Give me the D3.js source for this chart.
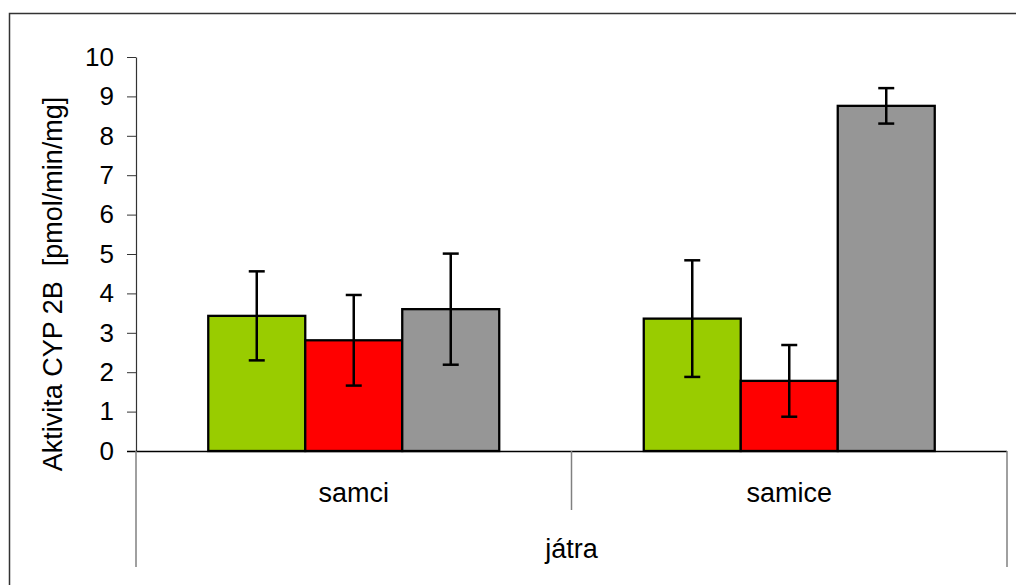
<!DOCTYPE html>
<html lang="cs">
<head>
<meta charset="UTF-8">
<title>Aktivita CYP 2B</title>
<script src="https://cdn.jsdelivr.net/npm/d3@7"></script>
<style>
    body { margin: 0; background: #fff; }
    svg text { font-family: "Liberation Sans", Arial, sans-serif; fill: #000; }
</style>
</head>
<body>
<div id="chart"></div>
<script>
    var categories = ["samci", "samice"];
    var groupLabel = "játra";
    var series = ["s1", "s2", "s3"];
    var colors = ["#99cc00", "#ff0000", "#969696"];
    // hodnoty po sériích, pořadí jako categories
    var values = [
        [3.43, 3.36],
        [2.81, 1.78],
        [3.60, 8.76]
    ];
    var errors = [
        [1.13, 1.48],
        [1.15, 0.91],
        [1.41, 0.45]
    ];
    var yTicks = [0, 1, 2, 3, 4, 5, 6, 7, 8, 9, 10];

    var width = 1016, height = 585;
    var plotLeft = 136, plotRight = 1007, plotTop = 57, plotBottom = 451;

    var svg = d3.select("#chart").append("svg")
        .attr("width", width)
        .attr("height", height);

    // rámeček grafu
    svg.append("rect")
        .attr("x", 9.5).attr("y", 13.5)
        .attr("width", 1030).attr("height", 600)
        .attr("fill", "none")
        .attr("stroke", "#333")
        .attr("stroke-width", 1.5);

    var y = d3.scaleLinear().domain([0, 10]).range([plotBottom, plotTop]);
    var x0 = d3.scaleBand().domain(categories).range([plotLeft, plotRight]);
    var x1 = d3.scaleBand().domain(series).range([0, x0.bandwidth()]).paddingOuter(0.745);

    var data = [];
    series.forEach(function (s, i) {
        categories.forEach(function (c, j) {
            data.push({ s: s, c: c, v: values[i][j], e: errors[i][j], color: colors[i] });
        });
    });

    // sloupce
    svg.selectAll("rect.bar")
        .data(data)
        .enter().append("rect")
        .attr("class", "bar")
        .attr("x", function (d) { return x0(d.c) + x1(d.s); })
        .attr("y", function (d) { return y(d.v); })
        .attr("width", x1.bandwidth())
        .attr("height", function (d) { return y(0) - y(d.v); })
        .attr("fill", function (d) { return d.color; })
        .attr("stroke", "#000")
        .attr("stroke-width", 2.3);

    // chybové úsečky
    var eb = svg.selectAll("g.err")
        .data(data)
        .enter().append("g")
        .attr("class", "err")
        .attr("transform", function (d) {
            return "translate(" + (x0(d.c) + x1(d.s) + x1.bandwidth() / 2) + ",0)";
        })
        .attr("stroke", "#000")
        .attr("stroke-width", 2.5);
    eb.append("line")
        .attr("y1", function (d) { return y(d.v + d.e); })
        .attr("y2", function (d) { return y(d.v - d.e); });
    eb.append("line")
        .attr("x1", -8).attr("x2", 8)
        .attr("y1", function (d) { return y(d.v + d.e); })
        .attr("y2", function (d) { return y(d.v + d.e); });
    eb.append("line")
        .attr("x1", -8).attr("x2", 8)
        .attr("y1", function (d) { return y(d.v - d.e); })
        .attr("y2", function (d) { return y(d.v - d.e); });

    // osa Y
    var yAxis = d3.axisLeft(y).tickValues(yTicks).tickSize(9).tickPadding(13).tickSizeOuter(0);
    var gy = svg.append("g")
        .attr("transform", "translate(" + plotLeft + ",0)")
        .call(yAxis);
    gy.selectAll("text").style("font-size", "26px").attr("fill", "#000");
    gy.selectAll("line, path").attr("stroke", "#333");
    gy.select(".domain").attr("stroke-width", 1.2);

    // osa X
    svg.append("line")
        .attr("x1", plotLeft - 9).attr("x2", plotRight)
        .attr("y1", plotBottom + 0.5).attr("y2", plotBottom + 0.5)
        .attr("stroke", "#000").attr("stroke-width", 1.5);

    // oddělovače kategorií
    var seps = categories.map(function (c) { return x0(c); }).concat([plotRight]);
    svg.selectAll("line.sep")
        .data(seps)
        .enter().append("line")
        .attr("class", "sep")
        .attr("x1", function (d) { return d; })
        .attr("x2", function (d) { return d; })
        .attr("y1", plotBottom)
        .attr("y2", function (d, i) { return (i === 0 || i === seps.length - 1) ? 567 : 510; })
        .attr("stroke", "#808080")
        .attr("stroke-width", 1.5);

    svg.selectAll("text.cat")
        .data(categories)
        .enter().append("text")
        .attr("class", "cat")
        .attr("x", function (d) { return x0(d) + x0.bandwidth() / 2; })
        .attr("y", 502)
        .attr("text-anchor", "middle")
        .style("font-size", "27px")
        .text(function (d) { return d; });

    svg.append("text")
        .attr("x", (plotLeft + plotRight) / 2)
        .attr("y", 558)
        .attr("text-anchor", "middle")
        .style("font-size", "27px")
        .text(groupLabel);

    // popisek osy Y
    svg.append("text")
        .attr("transform", "translate(62,284) rotate(-90)")
        .attr("text-anchor", "middle")
        .style("font-size", "27px")
        .style("white-space", "pre")
        .text("Aktivita CYP 2B  [pmol/min/mg]");
</script>
</body>
</html>
